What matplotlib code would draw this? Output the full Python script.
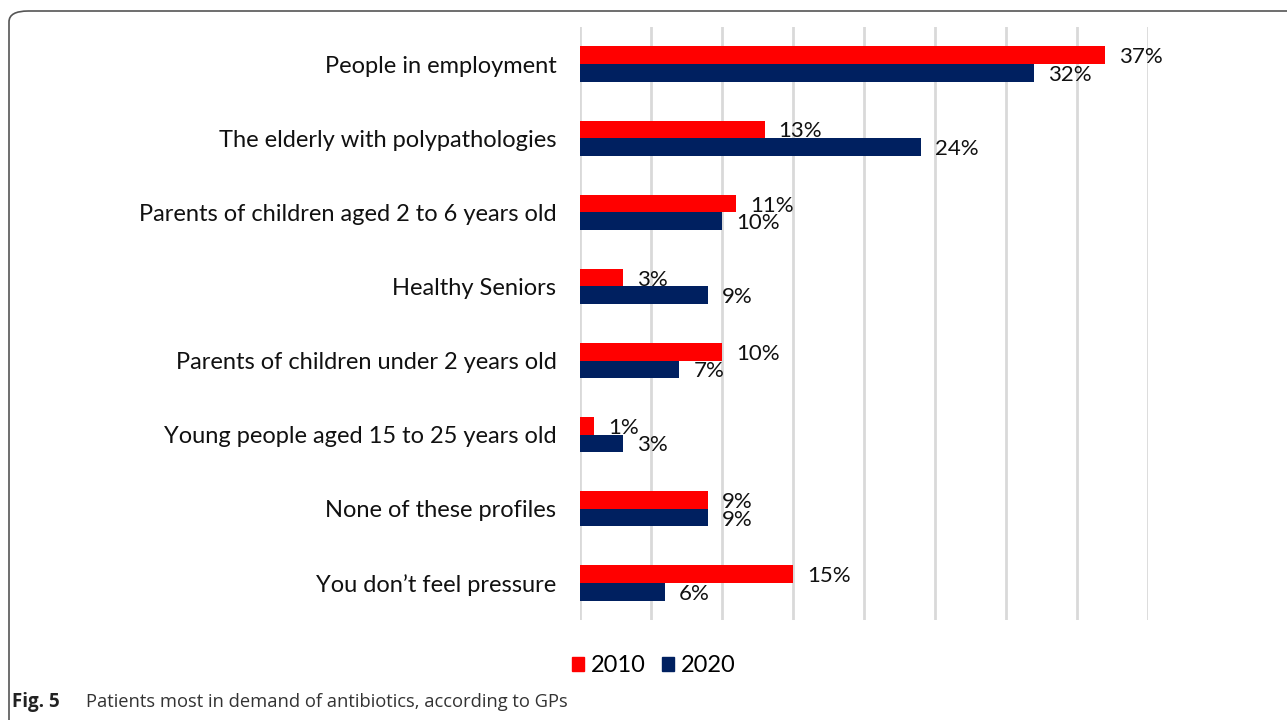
import matplotlib.pyplot as plt
import numpy as np
from matplotlib.patches import FancyBboxPatch, Patch

categories = [
    "People in employment",
    "The elderly with polypathologies",
    "Parents of children aged 2 to 6 years old",
    "Healthy Seniors",
    "Parents of children under 2 years old",
    "Young people aged 15 to 25 years old",
    "None of these profiles",
    "You don\u2019t feel pressure",
]
values_2010 = [37, 13, 11, 3, 10, 1, 9, 15]
values_2020 = [32, 24, 10, 9, 7, 3, 9, 6]

red = "#ff0000"
navy = "#002060"

W, H = 1287, 720
fig = plt.figure(figsize=(W / 100, H / 100), dpi=100)

# rounded frame that runs off the right and bottom edges
frame = FancyBboxPatch(
    (9 / W, -0.05), 1.2, 1 - 11 / H + 0.05,
    boxstyle="round,pad=0,rounding_size=0.015",
    transform=fig.transFigure, fill=False, edgecolor="#555555", linewidth=1.2,
)
fig.patches.append(frame)

ax = fig.add_axes([580 / W, 1 - 620 / H, (1148 - 580) / W, (620 - 27) / H])
y = np.arange(len(categories))
h = 0.237
ax.barh(y - h / 2, values_2010, height=h, color=red, zorder=3)
ax.barh(y + h / 2, values_2020, height=h, color=navy, zorder=3)

for yi, v in zip(y, values_2010):
    ax.annotate(f"{v}%", (v, yi - h / 2), xytext=(14, -2), textcoords="offset pixels",
                va="center", ha="left", fontsize=16, family="Lato", color="#111111")
for yi, v in zip(y, values_2020):
    ax.annotate(f"{v}%", (v, yi + h / 2), xytext=(14, -2), textcoords="offset pixels",
                va="center", ha="left", fontsize=16, family="Lato", color="#111111")

ax.set_xlim(0, 40)
ax.set_ylim(len(categories) - 0.5, -0.5)
ax.set_xticks(np.arange(0, 41, 5))
ax.set_xticklabels([])
ax.grid(axis="x", color="#d9d9d9", linewidth=2, zorder=0)
ax.tick_params(length=0)
ax.set_yticks(y)
ax.set_yticklabels(categories, fontsize=17, family="Lato", color="#111111")
ax.tick_params(axis="y", pad=17)
for s in ax.spines.values():
    s.set_visible(False)

handles = [Patch(color=red, label="2010"), Patch(color=navy, label="2020")]
fig.legend(handles=handles, loc="center", bbox_to_anchor=(654 / W, 1 - 666 / H), ncol=2,
           frameon=False, handlelength=0.5, handleheight=0.5, handletextpad=0.3,
           columnspacing=0.7, prop={"family": "Lato", "size": 17})

fig.text(12 / W, 1 - 702 / H, "Fig. 5", fontsize=13.5, fontweight="bold",
         family="Open Sans", va="center", color="#222222")
fig.text(86 / W, 1 - 702 / H, "Patients most in demand of antibiotics, according to GPs",
         fontsize=13.2, family="Open Sans", va="center", color="#333333")

fig.savefig("out.png", dpi=100)
